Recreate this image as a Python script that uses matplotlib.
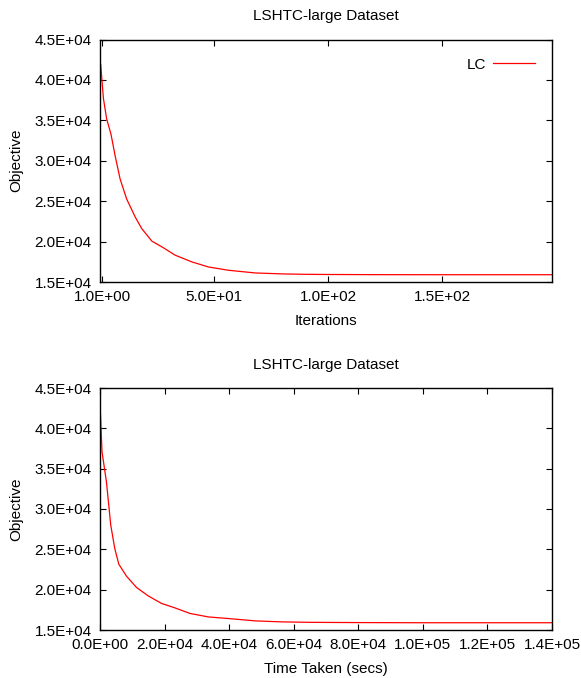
import matplotlib
matplotlib.use("Agg")
import matplotlib.pyplot as plt
from matplotlib.ticker import FixedLocator

plt.rcParams['font.family'] = ['Liberation Sans', 'DejaVu Sans']

title = "LSHTC-large Dataset"
series_name = "LC"

iter_x = [0.3, 1.5, 2.9, 4.8, 6.6, 8.8, 11.7, 15.4, 18.3, 22.7, 27.8, 32.9, 40.2, 47.5,
          56.3, 68, 80, 90, 100, 120, 150, 198]
iter_y = [41900, 37700, 35200, 33300, 30650, 27750, 25250, 23050, 21600, 20060, 19230, 18320,
          17490, 16860, 16450, 16120, 16000, 15950, 15930, 15910, 15900, 15900]

time_x = [130, 620, 1990, 3330, 4570, 5820, 8210, 11320, 14930, 19080, 23220, 27890, 33580,
          39800, 48100, 56000, 65000, 80000, 100000, 120000, 140000]
time_y = [41860, 37100, 33380, 28000, 25110, 23160, 21670, 20270, 19230, 18290, 17740, 17050,
          16620, 16420, 16130, 16010, 15950, 15920, 15900, 15900, 15900]

y_ticks = [15000, 20000, 25000, 30000, 35000, 40000, 45000]
iter_ticks = [1, 50, 100, 150]
time_ticks = [0, 20000, 40000, 60000, 80000, 100000, 120000, 140000]

def fmt(v):
    return "%.1E" % v

W, H = 581, 678
fig = plt.figure(figsize=(W / 100, H / 100), dpi=100)

def make_ax(top_px, bottom_px):
    left, right = 100, 552
    return fig.add_axes([left / W, 1 - bottom_px / H, (right - left) / W, (bottom_px - top_px) / H])

fs = 11

def style(ax):
    ax.tick_params(direction='in', length=4, width=0.8, top=True, right=True,
                   labelsize=fs, colors='black', pad=6)
    for sp in ax.spines.values():
        sp.set_linewidth(1.0)
    ax.set_ylim(15000, 45000)
    ax.yaxis.set_major_locator(FixedLocator(y_ticks))
    ax.set_yticklabels([fmt(v) for v in y_ticks])
    ax.set_ylabel("Objective", fontsize=fs, labelpad=8)
    ax.set_title(title, fontsize=fs, pad=14)

ax1 = make_ax(39.5, 282)
ax1.plot(iter_x, iter_y, color='red', lw=0.9, label=series_name)
ax1.set_xlim(0, 198)
ax1.xaxis.set_major_locator(FixedLocator(iter_ticks))
ax1.set_xticklabels([fmt(v) for v in iter_ticks])
ax1.set_xlabel("Iterations", fontsize=fs, labelpad=7)
style(ax1)
leg = ax1.legend(loc='upper right', frameon=False, fontsize=fs, markerfirst=False,
                 handlelength=2.7, borderaxespad=0.7, handletextpad=0.5,
                 bbox_to_anchor=(0.999, 0.995))

ax2 = make_ax(388, 630)
ax2.plot(time_x, time_y, color='red', lw=0.9)
ax2.set_xlim(0, 140000)
ax2.xaxis.set_major_locator(FixedLocator(time_ticks))
ax2.set_xticklabels([fmt(v) for v in time_ticks])
ax2.set_xlabel("Time Taken (secs)", fontsize=fs, labelpad=7)
style(ax2)

fig.savefig("out.png", dpi=100)
